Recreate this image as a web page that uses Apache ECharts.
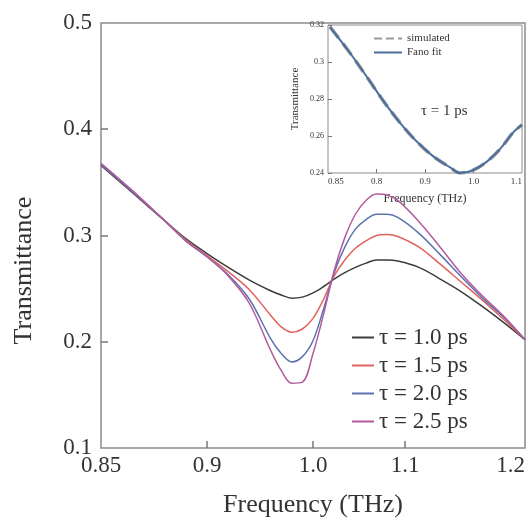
<!DOCTYPE html>
<html>
<head>
<meta charset="utf-8" />
<script src="https://cdn.jsdelivr.net/npm/echarts@6/dist/echarts.min.js"></script>
<style>
  html, body { margin: 0; padding: 0; background: #fff; }
  #main { width: 528px; height: 523px; }
</style>
</head>
<body>
<div id="main"></div>
<script>
// main plot data
var freq = [0.80, 0.83, 0.86, 0.88, 0.90, 0.92, 0.94, 0.96, 0.97, 0.98, 0.99, 1.00, 1.01,
  1.02, 1.03, 1.04, 1.05, 1.06, 1.07, 1.08, 1.10, 1.12, 1.14, 1.16, 1.18, 1.20];
var tau10 = [0.366, 0.340, 0.314, 0.297, 0.283, 0.270, 0.258, 0.248, 0.244, 0.241, 0.242, 0.246, 0.252,
  0.259, 0.265, 0.270, 0.274, 0.277, 0.277, 0.276, 0.270, 0.259, 0.247, 0.233, 0.218, 0.202];
var tau15 = [0.367, 0.341, 0.314, 0.296, 0.281, 0.266, 0.249, 0.225, 0.214, 0.209, 0.212, 0.222, 0.240,
  0.262, 0.277, 0.288, 0.295, 0.300, 0.301, 0.299, 0.289, 0.273, 0.256, 0.239, 0.221, 0.202];
var tau20 = [0.367, 0.341, 0.314, 0.295, 0.280, 0.263, 0.240, 0.203, 0.189, 0.181, 0.186, 0.201, 0.231,
  0.265, 0.289, 0.306, 0.315, 0.320, 0.320, 0.317, 0.302, 0.282, 0.261, 0.241, 0.223, 0.202];
var tau25 = [0.368, 0.342, 0.314, 0.295, 0.280, 0.262, 0.236, 0.192, 0.173, 0.161, 0.162, 0.189, 0.226,
  0.267, 0.298, 0.320, 0.333, 0.339, 0.338, 0.333, 0.313, 0.289, 0.264, 0.243, 0.224, 0.202];
var names = ["τ = 1.0 ps", "τ = 1.5 ps", "τ = 2.0 ps", "τ = 2.5 ps"];
var colors = ["#3c3c3c", "#e2625c", "#5a72ae", "#b35a9e"];

// tick labels as printed in the figure
var xTickVals = [0.9, 1.0, 1.087];
var xLabelVals = [0.8, 0.9, 1.0, 1.087, 1.2];
var xLabels = ["0.85", "0.9", "1.0", "1.1", "1.2"];

// inset data (tau = 1 ps)
var insetFreq = [0.704, 0.745, 0.780, 0.814, 0.849, 0.883, 0.917, 0.952, 0.972, 0.999, 1.027, 1.055, 1.082, 1.10];
var insetSim = [0.319, 0.305, 0.292, 0.279, 0.267, 0.257, 0.249, 0.243, 0.240, 0.2415, 0.246, 0.253, 0.262, 0.266];
var insetFit = [0.319, 0.305, 0.292, 0.279, 0.267, 0.257, 0.249, 0.243, 0.240, 0.2415, 0.246, 0.253, 0.262, 0.266];
var insetTickVals = [0.8, 0.9, 1.0];
var insetLabelVals = [0.7, 0.8, 0.9, 1.0, 1.1];
var insetLabels = ["0.85", "0.8", "0.9", "1.0", "1.1"];

var serif = "Liberation Serif";

function pick(vals, labels) {
  return function (v) {
    var best = 0;
    for (var i = 1; i < vals.length; i++) {
      if (Math.abs(vals[i] - v) < Math.abs(vals[best] - v)) best = i;
    }
    return labels[best];
  };
}
function pairs(xs, ys) {
  return xs.map(function (x, i) { return [x, ys[i]]; });
}

var chartDom = document.getElementById("main");
var myChart = echarts.init(chartDom);
var option;

var mainSeries = [tau10, tau15, tau20, tau25].map(function (d, i) {
  return {
    name: names[i],
    type: "line",
    xAxisIndex: 0,
    yAxisIndex: 0,
    smooth: 0.35,
    symbol: "none",
    lineStyle: { color: colors[i], width: 1.5 },
    itemStyle: { color: colors[i] },
    data: pairs(freq, d),
  };
});

option = {
  animation: false,
  backgroundColor: "#fff",
  grid: [
    { left: 101, top: 23, width: 426, height: 430, show: true, borderColor: "#8c8c8c", borderWidth: 1.5 },
    { left: 328, top: 25, width: 194, height: 148, show: true, borderColor: "#8c8c8c", borderWidth: 1 },
  ],
  legend: [
    {
      data: names,
      orient: "vertical",
      left: 346,
      top: 320,
      itemWidth: 22,
      itemHeight: 10,
      itemGap: 3,
      itemStyle: { opacity: 0 },
      textStyle: { fontFamily: serif, fontSize: 23, color: "#333", lineHeight: 25 },
    },
    {
      data: ["simulated", "Fano fit"],
      orient: "vertical",
      left: 368,
      top: 28,
      itemWidth: 28,
      itemHeight: 8,
      itemGap: 3,
      itemStyle: { opacity: 0 },
      textStyle: { fontFamily: serif, fontSize: 11, color: "#333" },
    },
  ],
  xAxis: [
    {
      type: "value",
      gridIndex: 0,
      min: 0.8,
      max: 1.2,
      name: "Frequency (THz)",
      nameLocation: "middle",
      nameGap: 44,
      nameTextStyle: { fontFamily: serif, fontSize: 26, color: "#333" },
      axisLine: { show: false },
      axisTick: { inside: true, length: 7, customValues: xTickVals, lineStyle: { color: "#777", width: 1.5 } },
      axisLabel: {
        customValues: xLabelVals,
        formatter: pick(xLabelVals, xLabels),
        fontFamily: serif,
        fontSize: 23,
        color: "#333",
        margin: 6,
        alignMaxLabel: "right",
      },
      splitLine: { show: false },
    },
    {
      type: "value",
      gridIndex: 1,
      min: 0.7,
      max: 1.1,
      name: "Frequency (THz)",
      nameLocation: "middle",
      nameGap: 20,
      nameTextStyle: { fontFamily: serif, fontSize: 12, color: "#333" },
      axisLine: { show: false },
      axisTick: { inside: true, length: 4, customValues: insetTickVals, lineStyle: { color: "#777" } },
      axisLabel: {
        customValues: insetLabelVals,
        formatter: pick(insetLabelVals, insetLabels),
        fontFamily: serif,
        fontSize: 9,
        color: "#333",
        margin: 4,
        alignMinLabel: "left",
        alignMaxLabel: "right",
      },
      splitLine: { show: false },
    },
  ],
  yAxis: [
    {
      type: "value",
      gridIndex: 0,
      min: 0.1,
      max: 0.5,
      interval: 0.1,
      name: "Transmittance",
      nameLocation: "middle",
      nameGap: 64,
      nameTextStyle: { fontFamily: serif, fontSize: 26, color: "#333", padding: [0, 70, 0, 0] },
      axisLine: { show: false },
      axisTick: { inside: true, length: 7, customValues: [0.2, 0.3, 0.4], lineStyle: { color: "#777", width: 1.5 } },
      axisLabel: {
        formatter: function (v) { return v.toFixed(1); },
        fontFamily: serif,
        fontSize: 23,
        color: "#333",
        margin: 9,
      },
      splitLine: { show: false },
    },
    {
      type: "value",
      gridIndex: 1,
      min: 0.24,
      max: 0.32,
      interval: 0.02,
      name: "Transmittance",
      nameLocation: "middle",
      nameGap: 27,
      nameTextStyle: { fontFamily: serif, fontSize: 11, color: "#333" },
      axisLine: { show: false },
      axisTick: { inside: true, length: 4, lineStyle: { color: "#777" } },
      axisLabel: {
        formatter: function (v) { return String(+v.toFixed(2)); },
        fontFamily: serif,
        fontSize: 8,
        color: "#333",
        margin: 4,
      },
      splitLine: { show: false },
    },
  ],
  graphic: [
    {
      type: "text",
      left: 421,
      top: 104,
      style: { text: "τ = 1 ps", fontFamily: serif, fontSize: 15, fill: "#333" },
    },
  ],
  series: mainSeries.concat([
    {
      name: "simulated",
      type: "line",
      xAxisIndex: 1,
      yAxisIndex: 1,
      smooth: 0.35,
      symbol: "none",
      lineStyle: { color: "#9a9a9a", width: 3.5, type: "dashed" },
      itemStyle: { color: "#9a9a9a" },
      data: pairs(insetFreq, insetSim),
    },
    {
      name: "Fano fit",
      type: "line",
      xAxisIndex: 1,
      yAxisIndex: 1,
      smooth: 0.35,
      symbol: "none",
      lineStyle: { color: "#4a6f9e", width: 2 },
      itemStyle: { color: "#4a6f9e" },
      data: pairs(insetFreq, insetFit),
    },
  ]),
};

option && myChart.setOption(option);
</script>
</body>
</html>
